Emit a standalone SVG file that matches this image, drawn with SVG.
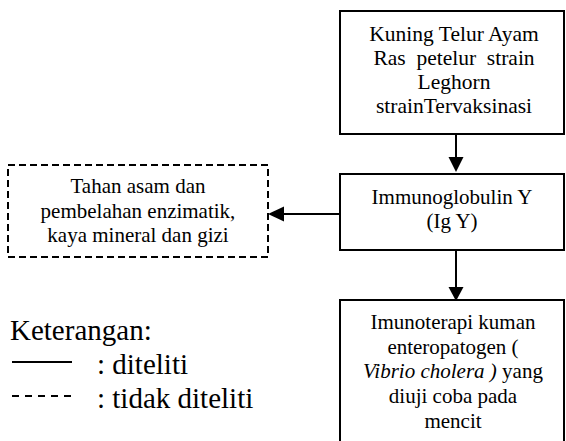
<svg xmlns="http://www.w3.org/2000/svg" width="566" height="441" viewBox="0 0 566 441">
<style>
  .n { font-size: 21px; text-anchor: middle; }
  .t { font-size: 21.5px; }
  .lg { font-size: 29px; }
  .box { fill: #fff; stroke: #000; stroke-width: 2; }
  .dbox { fill: #fff; stroke: #000; stroke-width: 2; stroke-dasharray: 7 4; }
  .edge { stroke: #000; stroke-width: 2; fill: none; }
  .ah { fill: #000; }
</style>
<rect width="566" height="441" fill="#fff"/>
<g id="connectors">
  <line class="edge" x1="456" y1="134" x2="456" y2="158"/>
  <polygon class="ah" points="448.5,157 463.5,157 456,172"/>
  <line class="edge" x1="456" y1="250" x2="456" y2="288"/>
  <polygon class="ah" points="448.5,287 463.5,287 456,301"/>
  <line class="edge" x1="340" y1="214" x2="282" y2="214"/>
  <polygon class="ah" points="284,206.5 284,221.5 268,214"/>
</g>
<g font-family="'Liberation Serif', 'Times New Roman', serif" fill="#000">
<g id="node-kuning">
  <rect class="box" x="340" y="11" width="224" height="123"/>
  <text class="n t" x="454" y="41">Kuning Telur Ayam</text>
  <text class="n t" x="454" y="65" xml:space="preserve">Ras  petelur  strain</text>
  <text class="n t" x="454" y="89">Leghorn</text>
  <text class="n t" x="454" y="113">strainTervaksinasi</text>
</g>
<g id="node-igy">
  <rect class="box" x="340" y="174" width="224" height="76"/>
  <text class="n" x="452" y="204">Immunoglobulin Y</text>
  <text class="n" x="452" y="228">(Ig Y)</text>
</g>
<g id="node-tahan">
  <rect class="dbox" x="8" y="165" width="260" height="92"/>
  <text class="n" x="138" y="193">Tahan asam dan</text>
  <text class="n" x="138" y="218">pembelahan enzimatik,</text>
  <text class="n" x="138" y="242">kaya mineral dan gizi</text>
</g>
<g id="node-imunoterapi">
  <rect class="box" x="340" y="300" width="224" height="150"/>
  <text class="n" x="453" y="329">Imunoterapi kuman</text>
  <text class="n" x="453" y="354">enteropatogen (</text>
  <text class="n" x="453" y="378"><tspan font-style="italic">Vibrio cholera )</tspan> yang</text>
  <text class="n" x="453" y="403">diuji coba pada</text>
  <text class="n" x="453" y="428">mencit</text>
</g>
<g id="legend">
  <text class="lg" x="10" y="340">Keterangan:</text>
  <line class="edge" x1="12" y1="362" x2="72" y2="362" stroke-width="1.5"/>
  <text class="lg" x="97" y="374">: diteliti</text>
  <line class="edge" x1="12" y1="396" x2="72" y2="396" stroke-width="1.5" stroke-dasharray="7 6"/>
  <text class="lg" x="97" y="408">: tidak diteliti</text>
</g>
</g>
</svg>
